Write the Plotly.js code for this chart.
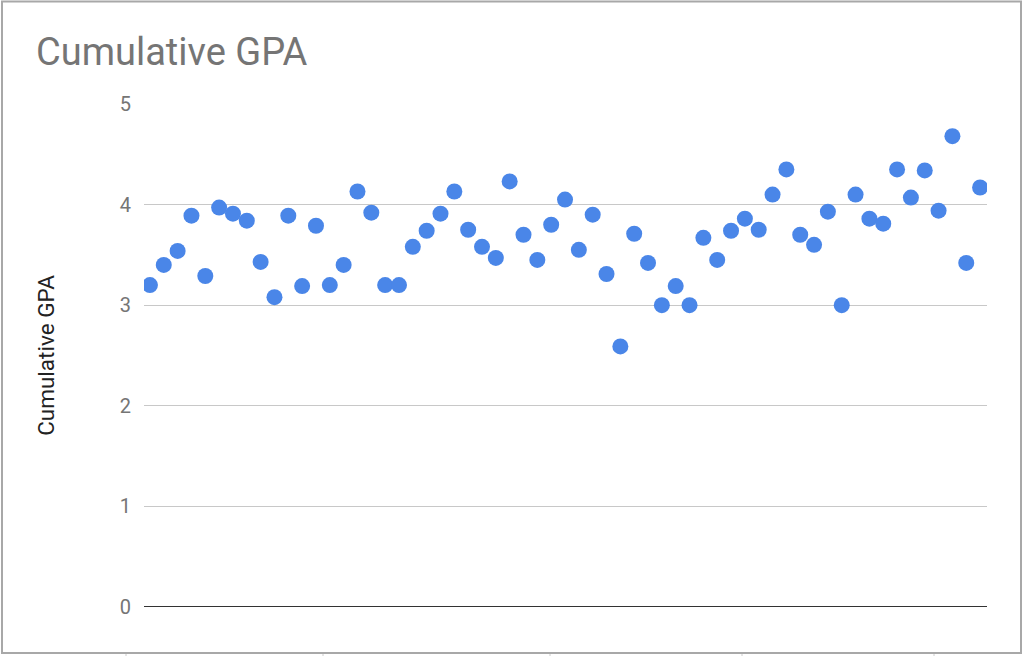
<!DOCTYPE html>
<html>
<head>
<meta charset="utf-8">
<script src="https://cdn.plot.ly/plotly-3.0.1.min.js"></script>
<style>
html,body{margin:0;padding:0;background:#fff;}
#chart{width:1024px;height:656px;}
</style>
</head>
<body>
<div id="chart"></div>
<script>
const studentIndex = Array.from({length: 61}, (_, i) => i + 1);
const cumulativeGPA = [
  3.20, 3.40, 3.54, 3.89, 3.29, 3.97, 3.91, 3.84, 3.43, 3.08,
  3.89, 3.19, 3.79, 3.20, 3.40, 4.13, 3.92, 3.20, 3.20, 3.58,
  3.74, 3.91, 4.13, 3.75, 3.58, 3.47, 4.23, 3.70, 3.45, 3.80,
  4.05, 3.55, 3.90, 3.31, 2.59, 3.71, 3.42, 3.00, 3.19, 3.00,
  3.67, 3.45, 3.74, 3.86, 3.75, 4.10, 4.35, 3.70, 3.60, 3.93,
  3.00, 4.10, 3.86, 3.81, 4.35, 4.07, 4.34, 3.94, 4.68, 3.42,
  4.17
];
const yTicks = [0, 1, 2, 3, 4, 5];
const chartTitle = 'Cumulative GPA';
const yTitle = 'Cumulative GPA';

const W = 1024, H = 656;
const L = 144, R = 37, T = 104, B = 49;
const pw = W - L - R, ph = H - T - B;
const px = v => (v - L) / pw;
const py = v => (H - B - v) / ph;

const shapes = [
  {type: 'rect', xref: 'paper', yref: 'paper', x0: px(2), x1: px(1021), y0: py(653), y1: py(1.5),
   line: {color: '#a8a8a8', width: 2}, fillcolor: 'rgba(0,0,0,0)', layer: 'below'},
  {type: 'line', xref: 'paper', yref: 'y', x0: 0, x1: 1, y0: 0, y1: 0,
   line: {color: '#333333', width: 2}, layer: 'below'}
];
[126, 323, 550, 742, 934].forEach(xx => {
  shapes.push({type: 'line', xref: 'paper', yref: 'paper', x0: px(xx), x1: px(xx), y0: py(654), y1: py(656),
    line: {color: '#cccccc', width: 1}});
});

const trace = {
  x: studentIndex,
  y: cumulativeGPA,
  type: 'scatter',
  mode: 'markers',
  marker: {size: 16, color: '#4a86e8', line: {width: 0}},
  hoverinfo: 'y'
};

const layout = {
  width: W, height: H,
  margin: {l: L, r: R, t: T, b: B, pad: 0},
  paper_bgcolor: '#ffffff',
  plot_bgcolor: '#ffffff',
  font: {family: 'Roboto, Arial, sans-serif', color: '#757575'},
  title: {
    text: chartTitle,
    font: {family: 'Roboto, Arial, sans-serif', size: 38, color: '#757575'},
    xref: 'container', yref: 'container',
    x: 36 / W, xanchor: 'left',
    y: 1 - 52 / H, yanchor: 'middle'
  },
  xaxis: {
    range: [0.57, 61.5],
    showgrid: false, zeroline: false, showticklabels: false,
    ticks: '', showline: false
  },
  yaxis: {
    range: [0, 5],
    tickvals: yTicks,
    ticktext: yTicks.map(String),
    showgrid: true, gridcolor: '#c8c8c8', gridwidth: 1,
    zeroline: false, showline: false, ticks: '',
    ticklabelstandoff: 12,
    tickfont: {family: 'Roboto, Arial, sans-serif', size: 20, color: '#757575'},
    title: {
      text: yTitle,
      font: {family: 'Roboto, Arial, sans-serif', size: 22.5, color: '#222222'},
      standoff: 58
    },
    automargin: false
  },
  shapes: shapes,
  showlegend: false
};

Plotly.newPlot('chart', [trace], layout, {displayModeBar: false, staticPlot: true});
</script>
</body>
</html>
